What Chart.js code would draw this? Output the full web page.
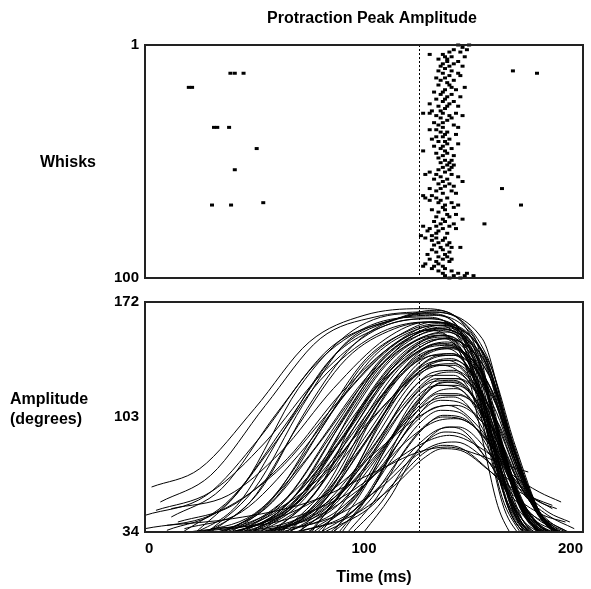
<!DOCTYPE html>
<html>
<head>
<meta charset="utf-8">
<script src="https://cdn.jsdelivr.net/npm/chart.js@4.4.1/dist/chart.umd.min.js"></script>
<style>
  body { margin: 0; background: #fff; }
  #wrap { position: relative; width: 591px; height: 589px; }
  #rasterChart { position: absolute; left: 0; top: 0; }
  #traceChart { position: absolute; left: 0; top: 290px; }
</style>
</head>
<body>
<div id="wrap">
  <canvas id="rasterChart" width="591" height="290"></canvas>
  <canvas id="traceChart" width="591" height="299"></canvas>
</div>
<script>
const timeTicks = [0, 100, 200]
const amplitudeTicks = [34, 103, 172]
const whiskTicks = [1, 100]
const markerTime = 125

// peak times (ms) for each whisk, row 1 first
const whiskPeaks = [
  [143, 148], [145], [141, 147], [139, 144], [130, 136],
  [137, 140, 146], [134, 138], [138, 143], [136, 141], [135, 139, 145],
  [137], [134, 140, 168], [39, 41, 45, 136, 143, 179], [139, 144], [133, 137],
  [135, 141], [138], [134, 139], [20, 21.5, 140, 146], [137, 142],
  [132, 136], [135, 140], [138, 144], [133, 137], [136, 141],
  [130, 139], [134, 138, 143], [137], [131, 135], [127, 130, 136, 142],
  [133, 139, 145], [135, 140], [138], [132, 136], [134, 141],
  [31.5, 33, 38.4, 136, 143], [130, 133], [135, 138], [137, 142], [133, 136],
  [131, 139], [134, 137], [138, 143], [132, 136], [51, 135, 140],
  [127, 137], [133, 138], [136, 141], [134], [137, 140],
  [135, 139], [138, 141], [136, 140], [41, 134, 139], [130, 137],
  [128, 133, 140], [135, 143], [132, 138], [136, 145], [134, 139],
  [137, 141], [130, 135, 163], [133, 140], [136, 142], [127, 131],
  [128, 133, 138], [130, 135], [54, 134, 140], [30.6, 39.3, 137, 143, 171.7], [136, 141],
  [131, 137], [134], [138, 142], [133, 139], [136, 145],
  [132, 137], [135, 141, 155], [127, 133, 139], [130, 136, 142], [129, 134],
  [133, 138], [126, 131], [128, 133, 137], [131, 136], [134, 139],
  [132, 138], [135, 140, 144], [131, 136], [133, 139], [129, 137],
  [134, 138], [130, 136, 140], [133, 139], [128, 134], [127, 132, 136],
  [131, 137], [134, 140], [136, 143, 147], [137, 141, 146, 150], [139, 144]
]

// amplitude traces, [time ms, degrees]
const amplitudeTraces = [
  [[3,61],[25,72],[50,108],[75,148],[100,164],[126,168],[150,152],[160,100],[170,55],[182,30]],
  [[7,52],[30,68],[55,110],[80,150],[105,163],[128,166],[154,150],[165,100],[177,50],[190,30]],
  [[12,43],[35,60],[60,105],[85,145],[110,160],[130,165],[146,148],[155,100],[163,55],[172,32]],
  [[15,32],[40,55],[65,100],[90,145],[115,162],[132,167],[150,148],[161,95],[171,50],[183,30]],
  [[20,30],[45,62],[70,120],[95,155],[120,165],[135,164],[155,140],[167,90],[179,48],[193,30]],
  [[0,44],[28,56],[52,90],[78,135],[103,158],[127,163],[144,150],[154,105],[163,60],[173,34]],
  [[18,30],[42,50],[62,92],[85,138],[110,158],[130,162],[150,140],[160,92],[171,50],[184,30]],
  [[25,30],[50,60],[72,110],[92,148],[115,162],[133,166],[156,140],[168,88],[180,46],[194,28]],
  [[30,30],[55,50],[80,95],[100,135],[120,155],[132,160],[151,140],[161,95],[172,50],[185,30]],
  [[35,30],[60,55],[85,105],[105,140],[125,156],[135,158],[149,135],[158,90],[166,50],[176,30]],
  [[22,33],[50,45],[75,80],[100,125],[120,150],[133,156],[155,135],[167,88],[179,48],[192,32]],
  [[40,31],[65,55],[88,100],[108,138],[125,152],[134,155],[152,135],[162,88],[172,48],[184,30]],
  [[28,31],[55,48],[80,88],[103,128],[122,148],[134,153],[149,132],[158,85],[166,48],[175,30]],
  [[45,30],[70,58],[92,105],[110,140],[126,154],[136,157],[157,132],[169,82],[181,44],[195,28]],
  [[33,31],[60,45],[85,82],[108,125],[126,148],[136,152],[153,130],[163,84],[173,46],[186,30]],
  [[50,31],[75,60],[95,108],[112,138],[126,150],[135,152],[150,128],[159,80],[167,45],[176,30]],
  [[38,32],[65,48],[90,90],[110,128],[127,146],[137,150],[157,128],[169,80],[181,42],[194,30]],
  [[55,30],[80,62],[98,108],[115,138],[128,150],[137,152],[154,128],[164,82],[174,44],[187,28]],
  [[42,30],[70,50],[93,92],[112,128],[128,145],[138,148],[152,125],[160,82],[168,46],[177,30]],
  [[26,32],[52,42],[78,72],[102,115],[122,140],[134,147],[156,125],[168,80],[180,46],[193,34]],
  [[60,31],[82,60],[100,102],[116,132],[129,145],[138,147],[155,122],[165,78],[175,42],[188,28]],
  [[48,31],[74,52],[96,92],[114,126],[129,142],[139,145],[158,120],[170,74],[182,40],[195,28]],
  [[36,31],[63,44],[88,78],[110,118],[128,140],[138,144],[152,120],[161,78],[169,45],[178,30]],
  [[65,32],[86,65],[103,105],[118,132],[130,143],[140,144],[156,118],[166,74],[176,40],[188,28]],
  [[52,30],[78,50],[100,90],[117,122],[130,138],[140,141],[159,115],[171,70],[183,40],[196,28]],
  [[70,33],[90,68],[106,108],[120,132],[131,140],[140,141],[153,118],[161,80],[169,46],[178,30]],
  [[44,31],[72,44],[96,80],[115,115],[130,135],[140,138],[156,112],[166,72],[176,42],[189,30]],
  [[58,31],[83,55],[104,95],[119,124],[131,136],[141,137],[159,110],[171,68],[183,40],[196,28]],
  [[30,31],[58,42],[85,70],[108,108],[127,132],[138,137],[155,112],[165,74],[175,44],[188,32]],
  [[75,32],[93,65],[108,100],[121,125],[132,134],[141,134],[154,110],[162,74],[170,44],[179,30]],
  [[62,31],[86,52],[106,88],[121,118],[132,130],[141,131],[159,105],[171,66],[183,40],[195,30]],
  [[20,34],[48,40],[76,62],[102,100],[124,128],[136,134],[154,112],[165,72],[176,44],[189,34]],
  [[80,33],[96,62],[110,95],[122,120],[132,128],[141,128],[154,104],[163,68],[171,42],[180,30]],
  [[68,32],[90,55],[108,88],[122,115],[133,126],[142,126],[160,100],[172,62],[184,38],[196,28]],
  [[50,32],[78,45],[100,75],[118,108],[131,124],[141,125],[157,100],[167,66],[177,40],[190,30]],
  [[85,32],[100,60],[113,92],[124,115],[134,122],[142,122],[158,98],[168,62],[178,40],[190,30]],
  [[72,32],[94,52],[111,82],[124,106],[134,117],[142,117],[160,94],[172,60],[184,40],[196,32]],
  [[40,33],[70,42],[96,65],[117,97],[131,113],[141,115],[155,94],[164,62],[172,42],[182,32]],
  [[88,33],[103,58],[115,86],[126,106],[135,113],[143,112],[159,90],[169,60],[179,40],[191,30]],
  [[60,33],[86,45],[107,72],[122,98],[133,109],[142,110],[161,88],[173,58],[185,40],[197,32]],
  [[78,32],[98,50],[113,78],[126,100],[135,107],[143,106],[156,86],[165,58],[173,40],[182,30]],
  [[92,33],[106,55],[118,82],[128,98],[136,103],[144,102],[160,82],[170,56],[180,38],[192,30]],
  [[48,34],[76,42],[100,62],[119,88],[132,100],[142,102],[160,84],[172,58],[184,44],[196,36]],
  [[66,33],[92,44],[112,68],[126,88],[135,96],[143,97],[159,78],[169,56],[179,42],[190,34]],
  [[95,34],[108,52],[120,76],[130,90],[137,94],[144,93],[157,76],[166,56],[174,42],[183,34]],
  [[30,36],[60,40],[90,55],[112,75],[128,88],[139,92],[156,82],[168,68],[180,58],[190,52]],
  [[55,34],[84,42],[107,60],[124,80],[134,87],[142,88],[157,76],[169,62],[180,52],[188,48]],
  [[82,34],[102,48],[117,68],[128,82],[136,86],[143,85],[158,70],[170,54],[182,44],[192,40]],
  [[10,38],[40,42],[75,52],[105,70],[125,82],[138,85],[153,80],[165,74],[175,70]],
  [[70,34],[95,44],[114,62],[127,78],[136,84],[144,83],[158,70],[168,60],[178,54],[186,50]],
  [[10,35],[35,48],[58,85],[80,125],[105,152],[128,160],[150,145],[160,98],[170,52],[182,30]],
  [[24,31],[48,52],[70,98],[92,138],[114,156],[131,160],[154,142],[166,92],[178,48],[191,30]],
  [[32,31],[57,52],[80,98],[101,138],[121,155],[134,159],[150,138],[159,90],[167,50],[176,32]],
  [[46,31],[70,54],[91,98],[110,134],[127,151],[137,154],[154,132],[164,84],[174,44],[186,30]],
  [[54,31],[77,56],[97,100],[114,134],[128,148],[138,150],[158,126],[170,78],[182,42],[195,28]],
  [[62,31],[84,58],[102,100],[118,132],[130,145],[139,146],[152,124],[161,80],[169,44],[178,30]],
  [[15,40],[40,50],[65,78],[90,118],[115,148],[132,158],[155,140],[167,90],[179,48],[192,30]],
  [[5,47],[30,58],[55,88],[80,128],[105,155],[127,162],[148,150],[159,104],[169,56],[181,30]],
  [[38,31],[62,50],[85,92],[106,132],[125,152],[136,156],[153,134],[163,86],[173,46],[186,30]],
  [[74,32],[92,62],[108,102],[121,130],[132,140],[141,140],[159,114],[171,70],[183,40],[196,28]],
  [[57,32],[80,50],[102,90],[119,124],[131,138],[141,140],[154,116],[163,74],[171,42],[180,28]],
  [[67,31],[88,54],[106,92],[121,122],[132,134],[141,135],[157,110],[167,70],[177,42],[190,30]],
  [[34,32],[60,44],[86,78],[108,116],[127,140],[138,145],[158,120],[170,74],[182,42],[195,30]],
  [[44,32],[68,50],[90,90],[109,128],[126,148],[136,151],[153,128],[163,82],[173,44],[185,30]],
  [[26,30],[52,58],[74,108],[95,146],[116,162],[132,164],[148,145],[157,96],[165,52],[174,30]],
  [[18,36],[44,46],[70,80],[95,122],[118,150],[133,156],[156,134],[168,84],[180,44],[193,30]],
  [[90,34],[104,60],[116,92],[127,115],[136,124],[143,123],[156,100],[165,66],[173,40],[182,28]],
  [[78,33],[96,56],[112,90],[125,114],[135,126],[143,126],[161,100],[173,62],[185,38],[197,28]],
  [[52,33],[78,46],[101,80],[119,112],[132,128],[141,130],[157,104],[167,68],[177,42],[190,30]],
  [[84,33],[100,54],[114,84],[126,106],[135,116],[143,116],[161,92],[173,58],[185,38],[197,28]],
  [[0,36],[30,44],[60,70],[88,112],[112,145],[130,155],[146,135],[154,90],[161,50],[168,30]],
  [[58,33],[82,48],[104,78],[121,104],[133,118],[142,120],[157,96],[167,64],[177,42],[189,32]],
  [[100,34],[112,55],[122,78],[131,92],[138,97],[145,95],[157,76],[167,56],[177,44],[186,38]],
  [[35,33],[62,48],[88,86],[109,124],[127,146],[137,150],[149,126],[157,84],[164,48],[172,30]],
  [[64,33],[88,50],[108,82],[123,110],[134,123],[142,124],[154,104],[162,70],[170,44],[178,30]],
  [[12,48],[38,56],[62,82],[86,120],[110,150],[129,160],[152,146],[164,98],[176,52],[190,32]],
  [[86,34],[102,52],[115,76],[127,96],[136,104],[144,103],[160,82],[172,60],[184,46],[194,40]],
  [[42,32],[66,52],[88,96],[108,134],[125,154],[135,158],[157,136],[169,86],[181,44],[195,28]],
  [[76,33],[96,54],[112,88],[125,112],[134,122],[142,121],[155,98],[164,66],[172,42],[181,30]],
  [[24,34],[55,40],[84,58],[108,85],[126,104],[138,110],[153,96],[165,72],[176,56],[186,48]]
]

const FONT = "'Liberation Sans', Arial, sans-serif"
const tickFont = { family: FONT, size: 15, weight: "bold" }

// frame, dashed marker and free text labels
const framePlugin = {
  id: "frame",
  afterDatasetsDraw(chart, args, opts) {
    const { ctx, chartArea: a, scales } = chart
    ctx.save()
    const x = Math.round(scales.x.getPixelForValue(markerTime)) + 0.5
    ctx.strokeStyle = "#000"
    ctx.lineWidth = 1
    ctx.setLineDash([2, 2])
    ctx.beginPath()
    ctx.moveTo(x, a.top)
    ctx.lineTo(x, a.bottom)
    ctx.stroke()
    ctx.setLineDash([])
    ctx.lineWidth = 2
    ctx.strokeStyle = "#222"
    ctx.strokeRect(a.left, a.top, a.right - a.left, a.bottom - a.top)
    ctx.fillStyle = "#000"
    ctx.textBaseline = "middle"
    ctx.font = "bold 16px " + FONT
    ;(opts.labels || []).forEach((l) => {
      ctx.textAlign = l.align || "center"
      ctx.fillText(l.text, l.x, l.y)
    })
    ctx.restore()
  },
}

function fixedTicks(values) {
  return (scale) => {
    scale.ticks = values.map((v) => ({ value: v }))
  }
}

new Chart(document.getElementById("rasterChart"), {
  type: "scatter",
  data: {
    datasets: [
      {
        data: whiskPeaks.flatMap((times, i) => times.map((t) => ({ x: t, y: i + 1 }))),
        pointStyle: "line",
        pointRadius: 2,
        borderWidth: 3,
        borderColor: "#000",
        clip: 4,
      },
    ],
  },
  options: {
    responsive: false,
    animation: false,
    events: [],
    layout: { padding: { top: 45, right: 8, bottom: 12, left: 0 } },
    scales: {
      x: { type: "linear", min: 0, max: 200, display: false },
      y: {
        min: 1,
        max: 100,
        reverse: true,
        afterBuildTicks: fixedTicks(whiskTicks),
        afterFit: (s) => {
          s.width = 145
          s.paddingTop = 0
          s.paddingBottom = 0
        },
        grid: { display: false, drawTicks: false },
        border: { display: false },
        ticks: { color: "#000", font: tickFont, padding: 6 },
      },
    },
    plugins: {
      legend: { display: false },
      tooltip: { enabled: false },
      frame: {
        labels: [
          { text: "Protraction Peak Amplitude", x: 372, y: 19 },
          { text: "Whisks", x: 68, y: 163 },
        ],
      },
    },
  },
  plugins: [framePlugin],
})

new Chart(document.getElementById("traceChart"), {
  type: "line",
  data: {
    datasets: amplitudeTraces.map((trace) => ({
      data: trace.map(([t, a]) => ({ x: t, y: a })),
      borderColor: "#000",
      borderWidth: 1,
      pointRadius: 0,
      cubicInterpolationMode: "monotone",
      fill: false,
    })),
  },
  options: {
    responsive: false,
    animation: false,
    events: [],
    layout: { padding: { top: 12, right: 8, bottom: 0, left: 0 } },
    scales: {
      x: {
        type: "linear",
        min: 0,
        max: 200,
        afterBuildTicks: fixedTicks(timeTicks),
        afterFit: (s) => {
          s.height = 57
          s.paddingLeft = 0
          s.paddingRight = 0
        },
        grid: { display: false, drawTicks: false },
        border: { display: false },
        ticks: { color: "#000", font: tickFont, padding: 8, maxRotation: 0, align: "inner" },
      },
      y: {
        min: 34,
        max: 172,
        afterBuildTicks: fixedTicks(amplitudeTicks),
        afterFit: (s) => {
          s.width = 145
          s.paddingTop = 0
          s.paddingBottom = 0
        },
        grid: { display: false, drawTicks: false },
        border: { display: false },
        ticks: { color: "#000", font: tickFont, padding: 6 },
      },
    },
    plugins: {
      legend: { display: false },
      tooltip: { enabled: false },
      frame: {
        labels: [
          { text: "Amplitude", x: 10, y: 110, align: "left" },
          { text: "(degrees)", x: 10, y: 130, align: "left" },
          { text: "Time (ms)", x: 374, y: 288 },
        ],
      },
    },
  },
  plugins: [framePlugin],
})
</script>
</body>
</html>
